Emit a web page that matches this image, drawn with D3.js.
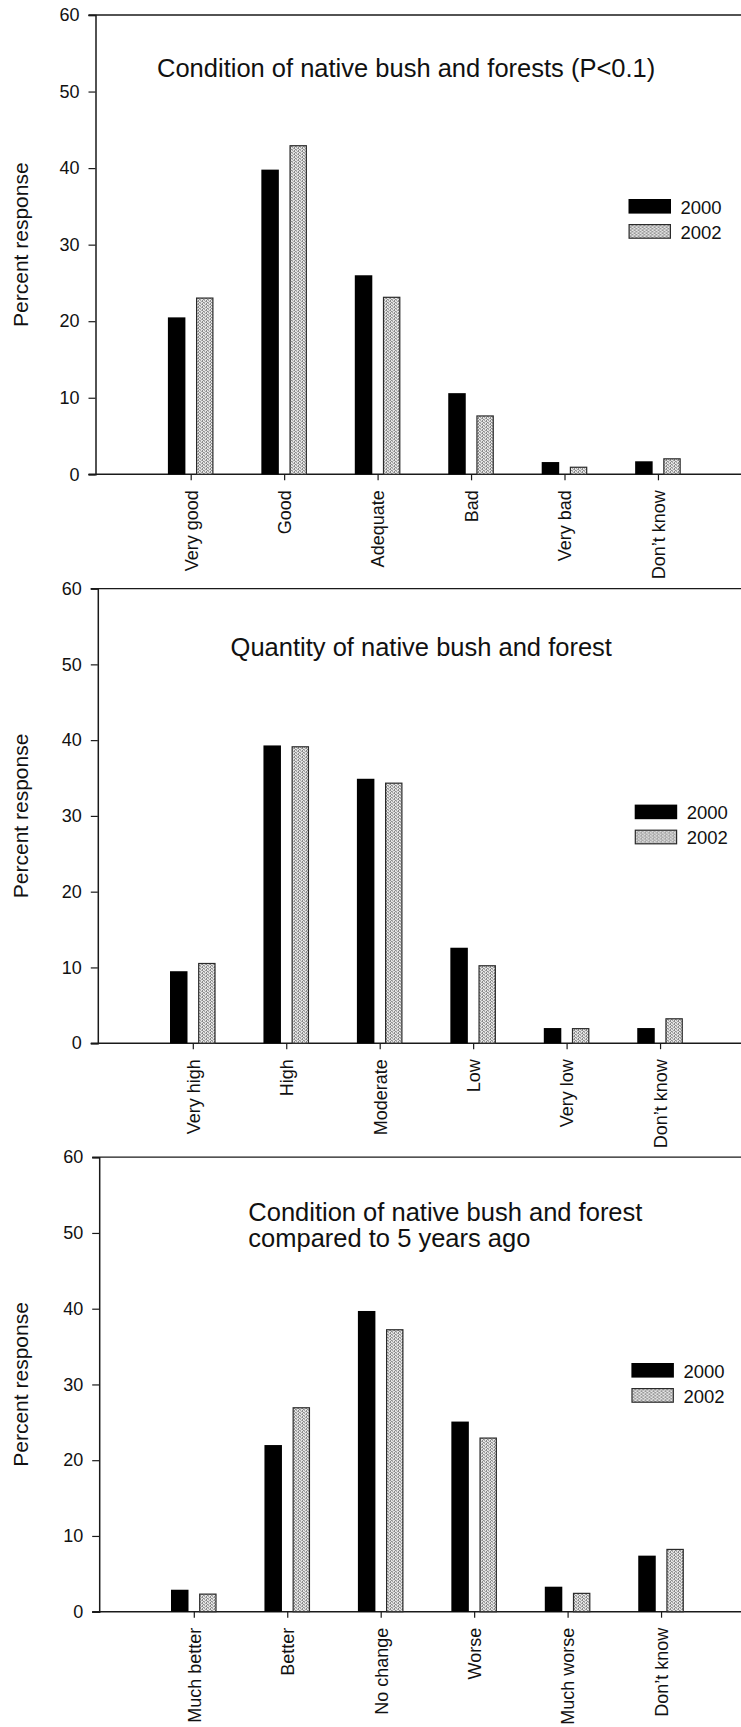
<!DOCTYPE html>
<html>
<head>
<meta charset="utf-8">
<script src="https://cdn.jsdelivr.net/npm/d3@7"></script>
<style>
  html, body { margin: 0; padding: 0; background: #fff; }
  svg { display: block; }
  text { font-family: "Liberation Sans", Arial, Helvetica, sans-serif; fill: #111; }
</style>
</head>
<body>
<svg id="fig" width="741" height="1727"></svg>
<script>
// ---- data ----
const years = ["2000", "2002"];
const yTicks = [0, 10, 20, 30, 40, 50, 60];

const conditionCats = ["Very good", "Good", "Adequate", "Bad", "Very bad", "Don\u2019t know"];
const condition2000 = [20.5, 39.8, 26.0, 10.6, 1.6, 1.7];
const condition2002 = [23.1, 43.0, 23.2, 7.7, 1.0, 2.1];

const quantityCats = ["Very high", "High", "Moderate", "Low", "Very low", "Don\u2019t know"];
const quantity2000 = [9.5, 39.3, 34.9, 12.6, 2.0, 2.0];
const quantity2002 = [10.6, 39.2, 34.4, 10.3, 2.0, 3.3];

const changeCats = ["Much better", "Better", "No change", "Worse", "Much worse", "Don\u2019t know"];
const change2000 = [2.9, 22.0, 39.7, 25.1, 3.3, 7.4];
const change2002 = [2.4, 27.0, 37.3, 23.0, 2.5, 8.3];

const titles = [
  ["Condition of native bush and forests (P<0.1)"],
  ["Quantity of native bush and forest"],
  ["Condition of native bush and forest", "compared to 5 years ago"]
];

// ---- layout of the three stacked panels ----
const panels = [
  { cats: conditionCats, a: condition2000, b: condition2002, title: titles[0],
    top: 15, zero: 474.3, axisX: 95.5, firstTick: 190.7,
    titleX: 157, titleY: 76.8, legendX: 628.5, legendY: 199 },
  { cats: quantityCats, a: quantity2000, b: quantity2002, title: titles[1],
    top: 588.6, zero: 1043.2, axisX: 97.8, firstTick: 192.8,
    titleX: 230.6, titleY: 655.7, legendX: 634.7, legendY: 804.6 },
  { cats: changeCats, a: change2000, b: change2002, title: titles[2],
    top: 1157.2, zero: 1611.7, axisX: 99.2, firstTick: 193.8,
    titleX: 248.3, titleY: 1220.7, legendX: 631.4, legendY: 1363 }
];

const step = 93.45;
const barW = 17.5;
const barGap = 5.3;

const svg = d3.select("#fig");

// stippled grey fill used for the 2002 bars
const defs = svg.append("defs");
const pat = defs.append("pattern")
  .attr("id", "stipple")
  .attr("patternUnits", "userSpaceOnUse")
  .attr("width", 4).attr("height", 3);
pat.append("rect").attr("width", 4).attr("height", 3).attr("fill", "#e4e4e4");
[[0, 0], [2, 0], [1, 1], [3, 2], [0, 2], [2, 1]].forEach(([x, y], i) => {
  pat.append("rect").attr("x", x).attr("y", y).attr("width", 1).attr("height", 1)
    .attr("fill", i % 2 ? "#8a8a8a" : "#a8a8a8");
});

panels.forEach(p => {
  const g = svg.append("g");

  const y = d3.scaleLinear().domain([0, 60]).range([p.zero, p.top]);
  const x = d3.scalePoint().domain(p.cats)
    .range([p.firstTick, p.firstTick + step * (p.cats.length - 1)]);

  // frame lines at 0 and 60 running to the right edge
  [0, 60].forEach(v => {
    g.append("line")
      .attr("x1", p.axisX - 7).attr("x2", 760)
      .attr("y1", y(v)).attr("y2", y(v))
      .attr("stroke", "#1a1a1a").attr("stroke-width", v === 0 ? 1.5 : 1.3);
  });

  // y axis
  const yAxis = d3.axisLeft(y).tickValues(yTicks).tickSize(7).tickPadding(9)
    .tickFormat(d3.format("d"));
  const ya = g.append("g").attr("transform", `translate(${p.axisX},0)`).call(yAxis);
  ya.select(".domain").attr("stroke", "#1a1a1a").attr("stroke-width", 1.5);
  ya.selectAll(".tick line").attr("stroke", "#1a1a1a").attr("stroke-width", 1.2);
  ya.selectAll(".tick text").attr("font-size", 18).attr("fill", "#111")
    .attr("font-family", "'Liberation Sans', Arial, sans-serif");

  // y axis title
  g.append("text")
    .attr("transform", `translate(28,${(p.top + p.zero) / 2}) rotate(-90)`)
    .attr("text-anchor", "middle")
    .attr("font-size", 21)
    .text("Percent response");

  // x axis ticks and rotated category labels
  const xAxis = d3.axisBottom(x).tickSize(6).tickSizeOuter(0).tickPadding(9);
  const xa = g.append("g").attr("transform", `translate(0,${p.zero})`).call(xAxis);
  xa.select(".domain").remove();
  xa.selectAll(".tick line").attr("stroke", "#1a1a1a").attr("stroke-width", 1.2);
  xa.selectAll(".tick text")
    .attr("font-size", 18).attr("fill", "#111")
    .attr("font-family", "'Liberation Sans', Arial, sans-serif")
    .attr("text-anchor", "end")
    .attr("transform", "rotate(-90)")
    .attr("x", -16).attr("y", 0).attr("dy", "0.35em");

  // bars
  const rows = p.cats.map((c, i) => ({ c, a: p.a[i], b: p.b[i] }));
  g.selectAll(".bar2000").data(rows).join("rect")
    .attr("x", d => x(d.c) - barGap - barW)
    .attr("y", d => y(d.a))
    .attr("width", barW)
    .attr("height", d => y(0) - y(d.a))
    .attr("fill", "#000");
  g.selectAll(".bar2002").data(rows).join("rect")
    .attr("x", d => x(d.c) + barGap + 0.6)
    .attr("y", d => y(d.b) + 0.6)
    .attr("width", barW - 1.2)
    .attr("height", d => Math.max(0, y(0) - y(d.b) - 0.6))
    .attr("fill", "url(#stipple)")
    .attr("stroke", "#2a2a2a").attr("stroke-width", 1.2);

  // title
  const t = g.append("text").attr("x", p.titleX).attr("y", p.titleY).attr("font-size", 25.5);
  p.title.forEach((line, i) => {
    t.append("tspan").attr("x", p.titleX).attr("dy", i === 0 ? 0 : 26.2).text(line);
  });

  // legend
  const lg = g.append("g").attr("transform", `translate(${p.legendX},${p.legendY})`);
  years.forEach((yr, i) => {
    lg.append("rect")
      .attr("x", i ? 0.6 : 0).attr("y", i * 25 + (i ? 0.6 : 0))
      .attr("width", i ? 41.3 : 42.5).attr("height", i ? 13.6 : 14.6)
      .attr("fill", i ? "url(#stipple)" : "#000")
      .attr("stroke", i ? "#2a2a2a" : "none").attr("stroke-width", 1.2);
    lg.append("text")
      .attr("x", 52).attr("y", i * 25 + 14.6)
      .attr("font-size", 18.5)
      .text(yr);
  });
});
</script>
</body>
</html>
